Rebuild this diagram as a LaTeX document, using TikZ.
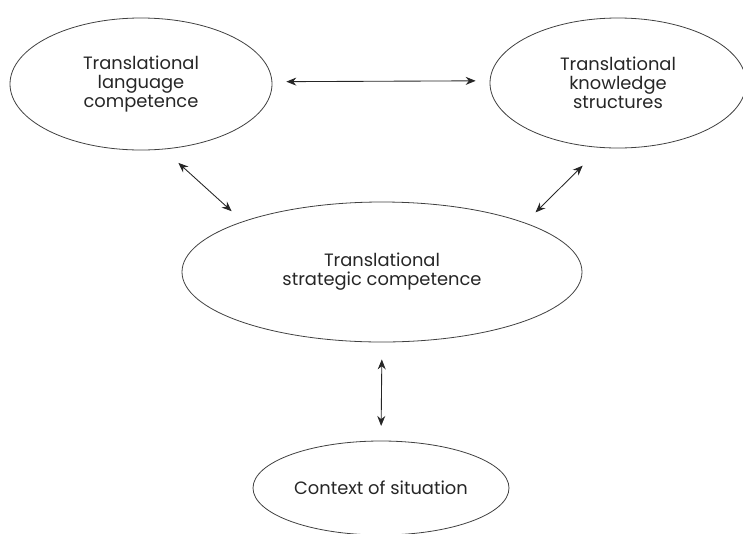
\documentclass[tikz,border=0pt]{standalone}
\usepackage{fontspec}
\setmainfont{Poppins}
\usetikzlibrary{arrows.meta,shapes.geometric}

\begin{document}
\begin{tikzpicture}[
        x=0.75pt, y=-0.75pt,
        bubble/.style={draw=black!75, line width=0.6pt, ellipse, inner sep=0pt, align=center,
            font=\fontsize{13.4}{14.25}\selectfont, text=black!85},
        link/.style={arrows={Stealth[length=7.5pt, width=6pt]-Stealth[length=7.5pt, width=6pt]},
            line width=0.65pt, draw=black!85}
    ]
        \useasboundingbox (0, 0) rectangle (743, 533);

        \node[bubble, minimum width=196.5pt, minimum height=99pt] (lang) at (141, 84) {Translational\\language\\competence};
        \node[bubble, minimum width=192pt, minimum height=97.5pt] (know) at (618, 83) {Translational\\knowledge\\structures};
        \node[bubble, minimum width=300pt, minimum height=105pt] (strat) at (382, 272) {Translational\\strategic competence};
        \node[bubble, minimum width=192pt, minimum height=70.5pt] (ctx) at (381, 488) {Context of situation};

        \draw[link, shorten <=10.5pt, shorten >=10.5pt] (lang.1.3) -- (know.179.1);
        \draw[link, shorten <=15pt, shorten >=11.3pt] (lang.-71.1) -- (strat.160.6);
        \draw[link, shorten <=19pt, shorten >=11pt] (know.-105) -- (strat.19.6);
        \draw[link, shorten <=12.75pt, shorten >=11pt] (strat.south) -- (ctx.north);
    \end{tikzpicture}
\end{document}
